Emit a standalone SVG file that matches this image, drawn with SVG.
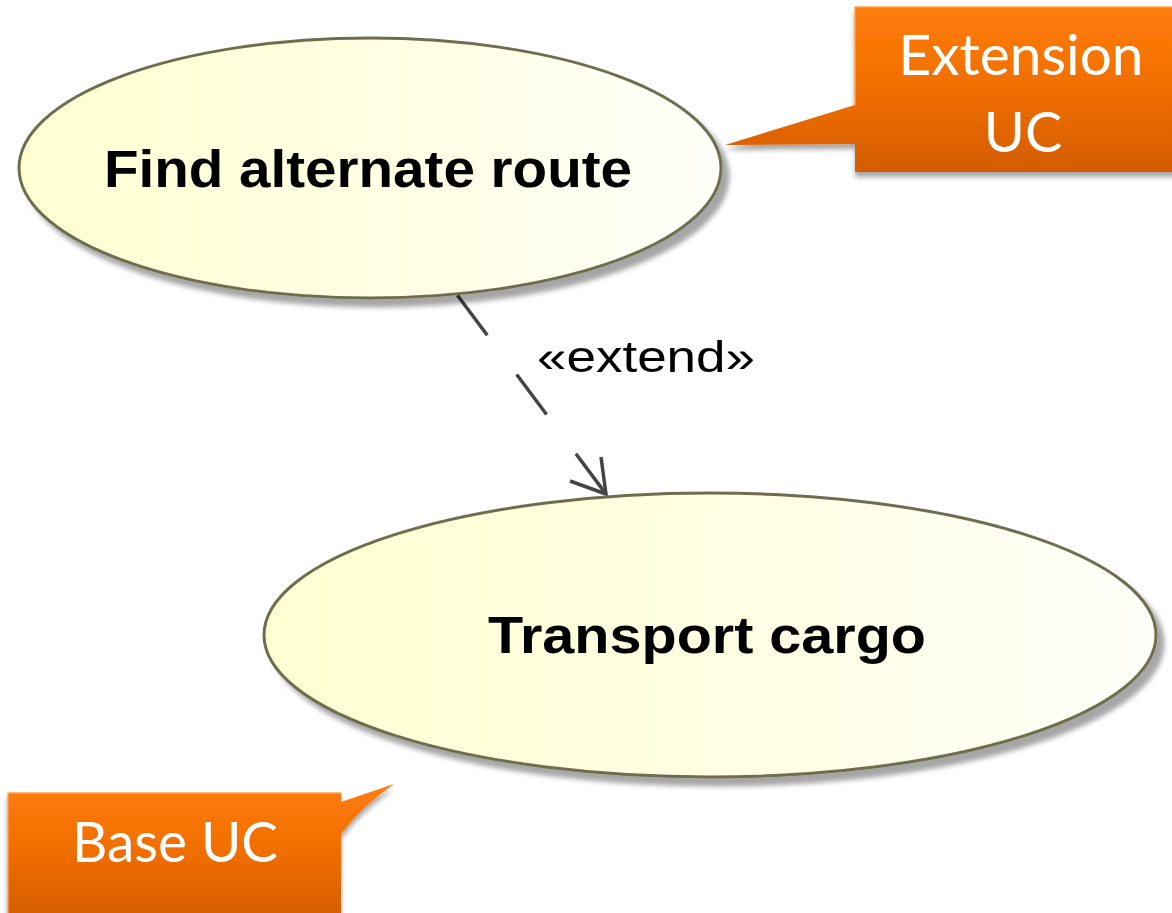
<svg xmlns="http://www.w3.org/2000/svg" width="1172" height="913" viewBox="0 0 1172 913">
  <style>
    .uc { stroke: #6e6e50; stroke-width: 3; }
    .uc-label { font-family: "Liberation Sans", Arial, sans-serif; font-weight: bold; fill: #000; text-anchor: middle; }
    .note { font-family: Lato, "Open Sans", sans-serif; fill: #fff; text-anchor: middle; }
    .stereo { font-family: "Liberation Sans", Arial, sans-serif; fill: #000; }
    .dep { stroke: #444; stroke-width: 3.5; fill: none; }
  </style>
  <defs>
    <linearGradient id="ucFill" x1="0" y1="0" x2="1" y2="0">
      <stop offset="0" stop-color="#ffffd2"/>
      <stop offset="0.6" stop-color="#ffffe6"/>
      <stop offset="1" stop-color="#fffffa"/>
    </linearGradient>
    <linearGradient id="noteFill" x1="0" y1="0" x2="0" y2="1">
      <stop offset="0" stop-color="#ff7d08"/>
      <stop offset="0.5" stop-color="#f06e04"/>
      <stop offset="1" stop-color="#d35c02"/>
    </linearGradient>
    <filter id="ucShadow" x="-10%" y="-10%" width="125%" height="130%">
      <feGaussianBlur in="SourceAlpha" stdDeviation="2.5"/>
      <feOffset dx="7" dy="8" result="off"/>
      <feComponentTransfer><feFuncA type="linear" slope="0.35"/></feComponentTransfer>
      <feMerge><feMergeNode/><feMergeNode in="SourceGraphic"/></feMerge>
    </filter>
    <filter id="noteShadow" x="-10%" y="-10%" width="125%" height="130%">
      <feGaussianBlur in="SourceAlpha" stdDeviation="2.5"/>
      <feOffset dx="0" dy="5" result="off"/>
      <feComponentTransfer><feFuncA type="linear" slope="0.35"/></feComponentTransfer>
      <feMerge><feMergeNode/><feMergeNode in="SourceGraphic"/></feMerge>
    </filter>
  </defs>

  <rect width="1172" height="913" fill="#fff"/>

  <!-- extend dependency: dashed line with open arrowhead -->
  <g id="connectors">
    <line class="dep" x1="440" y1="272" x2="606" y2="494" stroke-dasharray="50 49" stroke-dashoffset="70"/>
    <polyline class="dep" points="570,481 606,494 601,457"/>
    <text class="stereo" x="537" y="372" font-size="44" textLength="218" lengthAdjust="spacingAndGlyphs">«extend»</text>
  </g>

  <!-- use case: Find alternate route -->
  <g id="find-alternate-route">
    <ellipse class="uc" cx="370" cy="168" rx="351" ry="130" fill="url(#ucFill)" filter="url(#ucShadow)"/>
    <text class="uc-label" x="368" y="187" font-size="51" textLength="528" lengthAdjust="spacingAndGlyphs">Find alternate route</text>
  </g>

  <!-- use case: Transport cargo -->
  <g id="transport-cargo">
    <ellipse class="uc" cx="710" cy="635" rx="446" ry="142" fill="url(#ucFill)" filter="url(#ucShadow)"/>
    <text class="uc-label" x="707" y="653" font-size="52" textLength="438" lengthAdjust="spacingAndGlyphs">Transport cargo</text>
  </g>

  <!-- callout: Extension UC -->
  <g id="note-extension" filter="url(#noteShadow)">
    <path d="M855,7 H1190 V172 H855 V144 L725,145 L855,105 Z" fill="url(#noteFill)"/>
    <path d="M855,7 H1190 M855,7 V105" stroke="#ffa050" stroke-width="2" fill="none" opacity="0.7"/>
    <text class="note" x="1021" y="75" font-size="56" textLength="245" lengthAdjust="spacingAndGlyphs">Extension</text>
    <text class="note" x="1023" y="152" font-size="56">UC</text>
  </g>

  <!-- callout: Base UC -->
  <g id="note-base" filter="url(#noteShadow)">
    <path d="M8,793 H341 V802 L394,784 Q362,806 341,834 V920 H8 Z" fill="url(#noteFill)"/>
    <path d="M8,793 H341 M8,793 V913" stroke="#ffa050" stroke-width="2" fill="none" opacity="0.7"/>
    <text class="note" x="175" y="862" font-size="56" textLength="206" lengthAdjust="spacingAndGlyphs">Base UC</text>
  </g>
</svg>
